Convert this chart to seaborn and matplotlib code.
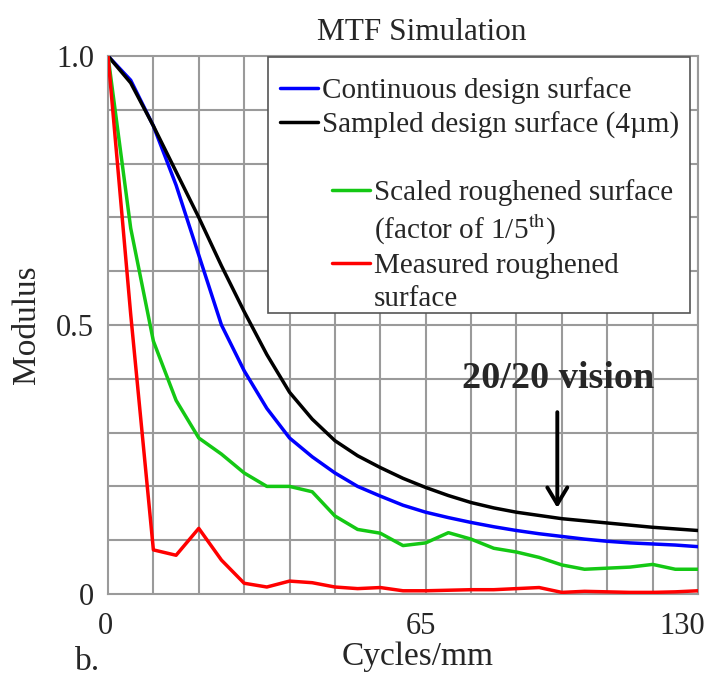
import numpy as np
import pandas as pd
import seaborn as sns
import matplotlib.pyplot as plt
import matplotlib.transforms as mtransforms
from matplotlib.lines import Line2D
from matplotlib.patches import Rectangle

# spatial frequency samples (cycles/mm)
freq = list(range(0, 131, 5))

# MTF values
continuous = [1.0, 0.955, 0.87, 0.76, 0.63, 0.50, 0.415, 0.345, 0.29, 0.255, 0.225, 0.20, 0.182,
              0.165, 0.152, 0.142, 0.133, 0.125, 0.118, 0.112, 0.107, 0.102, 0.098, 0.095, 0.093,
              0.091, 0.088]
sampled = [1.0, 0.95, 0.87, 0.785, 0.70, 0.61, 0.525, 0.445, 0.375, 0.325, 0.285, 0.257, 0.235,
           0.215, 0.198, 0.183, 0.17, 0.16, 0.152, 0.146, 0.14, 0.136, 0.132, 0.128, 0.124,
           0.121, 0.118]
scaled = [1.0, 0.68, 0.47, 0.36, 0.29, 0.26, 0.225, 0.20, 0.20, 0.19, 0.145, 0.12, 0.113,
          0.09, 0.095, 0.114, 0.102, 0.085, 0.078, 0.068, 0.054, 0.046, 0.048, 0.05, 0.055,
          0.046, 0.046]
measured = [1.0, 0.52, 0.082, 0.072, 0.122, 0.063, 0.02, 0.013, 0.024, 0.021, 0.013, 0.01, 0.012,
            0.006, 0.006, 0.007, 0.008, 0.008, 0.01, 0.012, 0.003, 0.005, 0.004, 0.003, 0.003,
            0.004, 0.006]

names = ["Continuous design surface", "Sampled design surface (4\u00b5m)",
         "Scaled roughened surface", "Measured roughened"]
colors = ["#0000ff", "#000000", "#14c814", "#ff0000"]

df = pd.DataFrame({"freq": freq * 4,
                   "mtf": continuous + sampled + scaled + measured,
                   "curve": sum([[n] * len(freq) for n in names], [])})

sns.set_theme(style="white")
plt.rcParams["font.family"] = ["Liberation Serif", "DejaVu Serif"]
plt.rcParams["mathtext.fontset"] = "stix"

fig = plt.figure(figsize=(7.1, 6.87), dpi=100)
ax = fig.add_axes([108 / 710, 93 / 687, 590 / 710, 538 / 687])

sns.lineplot(data=df, x="freq", y="mtf", hue="curve", palette=dict(zip(names, colors)),
             linewidth=2.5, legend=False, ax=ax, zorder=3)

ax.set_xlim(0, 130)
ax.set_ylim(0, 1.0)
ax.set_xticks([0, 65, 130])
ax.set_xticklabels(["0", "65", "130"], fontsize=22)
ax.set_yticks([0, 0.5, 1.0])
ax.set_yticklabels(["0", "0.5", "1.0"], fontsize=22)
ax.set_xticks(np.arange(0, 131, 5), minor=True)
ax.set_yticks(np.arange(0, 1.001, 0.05), minor=True)
ax.tick_params(which="both", direction="in", color="#777777", length=4, width=1)
ax.tick_params(axis="x", which="major", length=0, pad=13)
ax.tick_params(axis="y", which="major", length=0, pad=10)

# the x tick labels sit a bit off their ticks in the original
for lab, dx in zip(ax.get_xticklabels(), [-3, 18, -16]):
    lab.set_transform(lab.get_transform() + mtransforms.ScaledTranslation(dx / 100, 0, fig.dpi_scale_trans))

# grid every 10 cycles/mm and every 0.1 modulus
for gx in range(10, 131, 10):
    ax.axvline(gx, color="#9a9a9a", lw=1.5, zorder=1)
for gy in np.arange(0.1, 1.0, 0.1):
    ax.axhline(gy, color="#9a9a9a", lw=1.5, zorder=1)
for s in ax.spines.values():
    s.set_color("#9a9a9a")
    s.set_linewidth(1.5)

ax.set_xlabel("Cycles/mm", fontsize=24, va="top")
ax.xaxis.set_label_coords(0.525, -0.088)
ax.set_ylabel("Modulus", fontsize=24)
ax.yaxis.set_label_coords(-0.112, 0.5)
fig.text(422 / 710, 1 - 40 / 687, "MTF Simulation", fontsize=22.5, ha="center", va="baseline")
fig.text(88 / 710, 1 - 662 / 687, "b.", fontsize=24, ha="center", va="center")

# 20/20 vision annotation
ax.text(99.2, 0.40, "20/20 vision", fontsize=27.5, fontweight="bold", ha="center", va="center")
ax.annotate("", xy=(99, 0.16), xytext=(99, 0.338),
            arrowprops=dict(arrowstyle="->,head_width=0.6,head_length=1.0", color="black", lw=2.8,
                            shrinkA=0, shrinkB=0))

# legend box with two groups of entries
ax.add_patch(Rectangle((0.271, 0.522), 0.715, 0.476, transform=ax.transAxes,
                       facecolor="white", edgecolor="#555555", lw=1.2, zorder=4))
h1 = [Line2D([], [], color=c, lw=2.5) for c in colors[:2]]
leg1 = ax.legend(h1, names[:2], loc="upper left", bbox_to_anchor=(0.2915, 0.961), frameon=False,
                 fontsize=21, handlelength=1.3, handletextpad=0.14, labelspacing=0.26,
                 borderpad=0, borderaxespad=0)
leg1.set_zorder(5)
ax.add_artist(leg1)
blank = Line2D([], [], color="none")
h2 = [Line2D([], [], color=colors[2], lw=2.5), blank, Line2D([], [], color=colors[3], lw=2.5), blank]
lab2 = [names[2], "(factor of 1/5$^{\\rm th}$)", names[3], "surface"]
leg2 = ax.legend(h2, lab2, loc="upper left", bbox_to_anchor=(0.3797, 0.771), frameon=False,
                 fontsize=21, handlelength=1.3, handletextpad=0.14, labelspacing=0.22,
                 borderpad=0, borderaxespad=0)
leg2.set_zorder(5)

fig.savefig("out.png", dpi=100)
